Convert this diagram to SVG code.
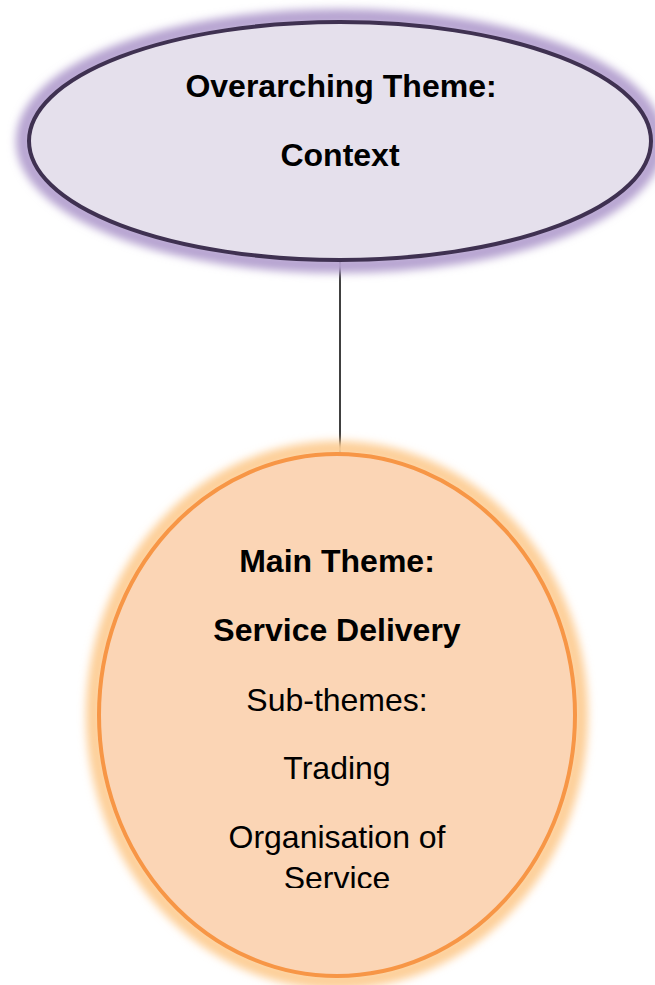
<svg xmlns="http://www.w3.org/2000/svg" width="655" height="985" viewBox="0 0 655 985">
  <defs>
    <filter id="soft-glow" x="-20%" y="-20%" width="140%" height="140%">
      <feGaussianBlur stdDeviation="4.5"/>
    </filter>
    <clipPath id="main-text-clip">
      <rect x="0" y="0" width="655" height="888"/>
    </clipPath>
  </defs>
  <style>
    text { font-family: "Liberation Sans", Arial, sans-serif; font-size: 32px; fill: #000; text-anchor: middle; }
    .bold { font-weight: bold; }
    .link { stroke: #000; stroke-width: 1.5; fill: none; }
  </style>

  <rect width="655" height="985" fill="#ffffff"/>

  <!-- connector -->
  <g id="connectors">
    <line class="link" x1="340" y1="260" x2="340" y2="453"/>
  </g>

  <!-- overarching theme -->
  <g id="context-node">
    <ellipse cx="340" cy="141" rx="316" ry="124" fill="none" stroke="#b6a3d0" stroke-width="16" filter="url(#soft-glow)"/>
    <ellipse cx="340" cy="141" rx="311" ry="119" fill="#e5e0ec" stroke="#3f3151" stroke-width="4"/>
    <text class="bold" x="341" y="97">Overarching Theme:</text>
    <text class="bold" x="340" y="166">Context</text>
  </g>

  <!-- main theme -->
  <g id="service-delivery-node">
    <ellipse cx="337" cy="715" rx="243" ry="266" fill="none" stroke="#fdcf98" stroke-width="16" filter="url(#soft-glow)"/>
    <ellipse cx="337" cy="715" rx="238" ry="261" fill="#fbd5b5" stroke="#f79646" stroke-width="4"/>
    <g clip-path="url(#main-text-clip)">
      <text class="bold" x="337" y="572">Main Theme:</text>
      <text class="bold" x="337" y="641">Service Delivery</text>
      <text x="337" y="711">Sub-themes:</text>
      <text x="337" y="779">Trading</text>
      <text x="337" y="848">Organisation of</text>
      <text x="337" y="889">Service</text>
    </g>
  </g>
</svg>
